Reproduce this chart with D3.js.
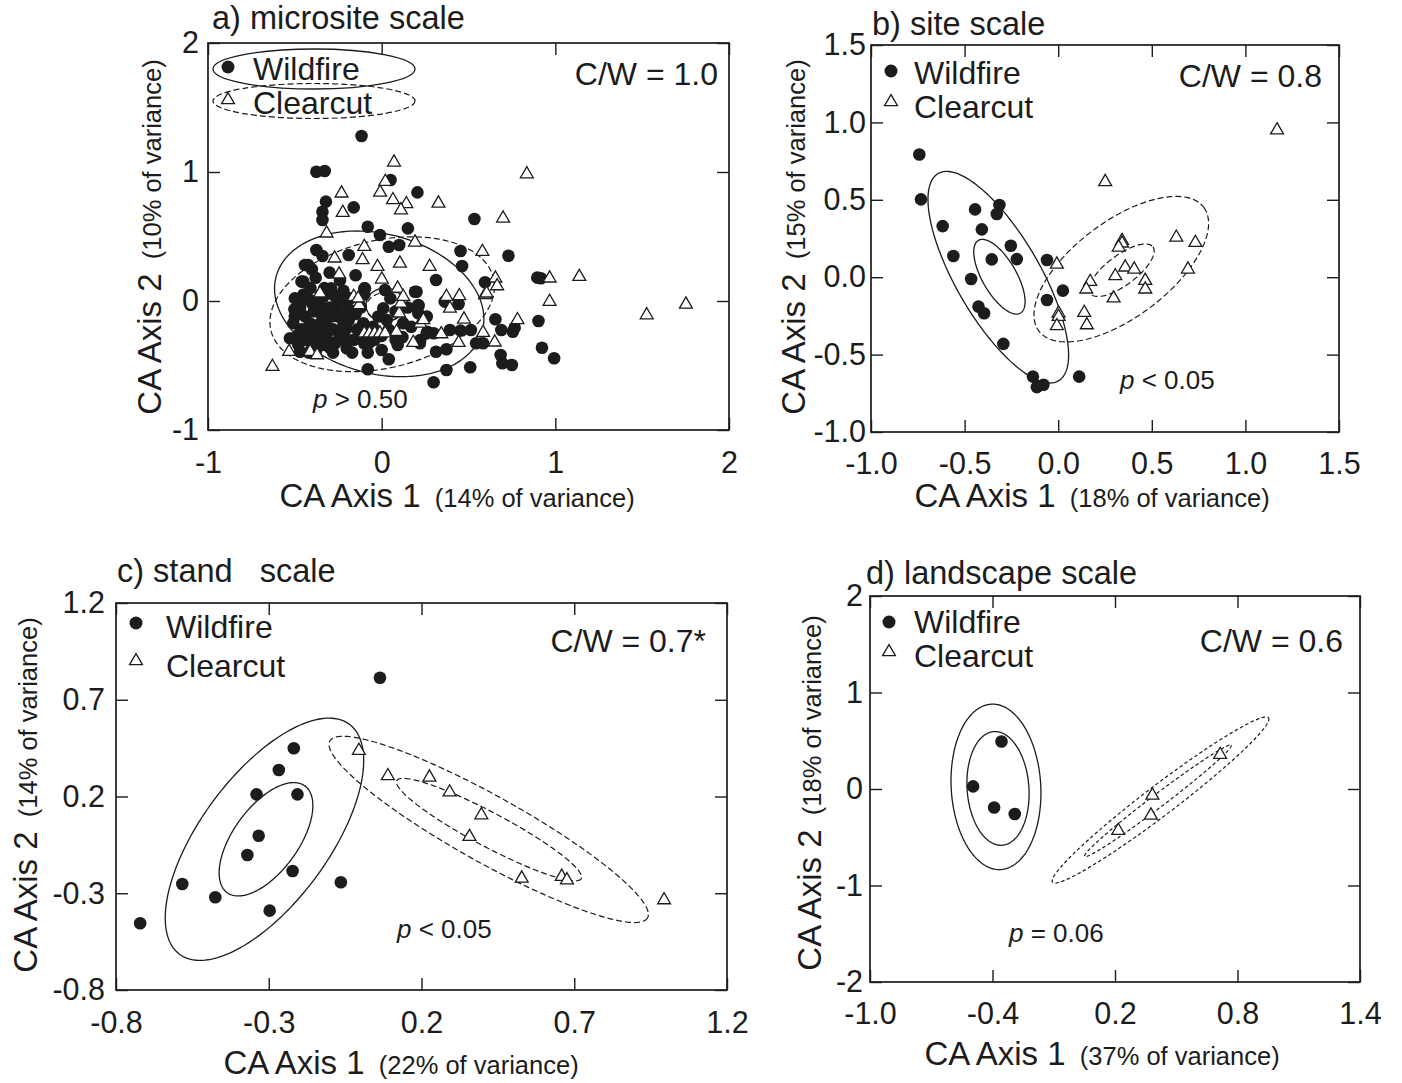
<!DOCTYPE html>
<html>
<head>
<meta charset="utf-8">
<script src="https://cdn.jsdelivr.net/npm/d3@7"></script>
<style>
  body { margin: 0; background: #fff; }
  svg text { font-family: "Liberation Sans", Arial, Helvetica, sans-serif; fill: #1c1c1c; }
</style>
</head>
<body>
<svg id="fig" width="1402" height="1083"></svg>
<script>
// ---------- CA ordination scores (Axis 1, Axis 2) ----------
const microWildfire = [
  [-0.116,1.279],[-0.376,1.002],[-0.328,1.008],[0.051,0.938],[0.206,0.842],[-0.321,0.770],[-0.161,0.726],
  [-0.341,0.692],[-0.341,0.628],[0.151,0.563],[-0.080,0.576],[-0.010,0.512],[0.041,0.421],[0.101,0.434],
  [0.534,0.636],[-0.376,0.395],[-0.341,0.349],[-0.190,0.357],[0.454,0.388],[0.463,0.271],[0.730,0.351],
  [-0.442,0.279],[-0.402,0.246],[0.313,0.163],[0.595,0.145],[0.896,0.181],[0.917,0.176],[0.192,0.072],
  [-0.100,0.098],[-0.291,0.098],[0.363,-0.005],[0.443,-0.023],[0.212,-0.039],[0.655,-0.142],[0.903,-0.155],
  [0.689,-0.225],[0.755,-0.238],[0.766,-0.207],[0.393,-0.225],[0.454,-0.230],[0.514,-0.225],[0.263,-0.238],
  [0.222,-0.302],[0.092,-0.341],[-0.070,-0.323],[0.041,-0.452],[-0.080,-0.529],[0.313,-0.393],[0.373,-0.374],
  [0.544,-0.328],[0.584,-0.328],[0.373,-0.535],[0.299,-0.630],[0.510,-0.514],[0.685,-0.419],[0.695,-0.483],
  [0.750,-0.496],[0.923,-0.362],[0.993,-0.444],[-0.528,-0.289],[-0.502,-0.064],[-0.462,0.150],
  [-0.423,0.279],[-0.451,0.150],[-0.096,0.098],[0.019,0.085],[0.201,0.072],[-0.470,-0.005],[-0.413,0.008],
  [-0.336,0.033],[-0.259,0.021],[-0.201,-0.005],[-0.489,-0.070],[-0.374,-0.070],[-0.279,-0.095],[-0.182,-0.070],
  [0.009,-0.057],[0.211,-0.031],[0.211,-0.095],[-0.509,-0.173],[-0.413,-0.173],[-0.317,-0.199],[-0.201,-0.212],
  [-0.106,-0.173],[0.029,-0.147],[0.124,-0.173],[0.259,-0.251],[-0.451,-0.302],[-0.374,-0.289],[-0.259,-0.315],
  [-0.201,-0.367],[-0.067,-0.315],[0.220,-0.328],[-0.470,-0.393],[-0.374,-0.367],
  [-0.45,0.05],[-0.40,-0.02],[-0.35,-0.10],[-0.30,-0.05],[-0.25,-0.12],[-0.42,-0.25],[-0.32,-0.28],
  [-0.28,-0.22],[-0.22,-0.18],[-0.15,-0.10],[-0.12,-0.25],[-0.05,-0.20],[0.00,-0.27],[-0.38,-0.40],
  [-0.48,-0.34],[-0.33,0.10],[-0.28,0.05],[-0.18,0.02],[-0.10,0.05],[0.05,0.02],[0.08,-0.08],[-0.02,-0.12],
  [0.15,-0.05],[-0.44,-0.12],[-0.36,-0.18],[-0.24,-0.28],[-0.16,-0.30],[-0.42,-0.40],[-0.30,-0.36],
  [-0.46,-0.22],[0.12,-0.28],[0.17,-0.20],[0.26,-0.12],[0.30,-0.25],[-0.08,-0.40],[0.00,-0.38],[-0.12,-0.05],
  [-0.38,0.18],[-0.30,0.22],[-0.24,0.16],[-0.15,0.20],
  [-0.50,-0.12],[-0.47,-0.05],[-0.43,0.02],[-0.39,-0.08],[-0.36,-0.03],[-0.33,-0.15],[-0.29,-0.12],
  [-0.26,-0.04],[-0.23,-0.09],[-0.31,-0.24],[-0.27,-0.33],[-0.22,-0.25],[-0.19,-0.15],[-0.44,-0.30],
  [-0.40,-0.35],[-0.34,-0.34],[-0.48,-0.26],[-0.37,-0.22],[-0.20,-0.30],[-0.14,-0.22],[-0.10,-0.33],
  [-0.04,-0.30],[0.04,-0.22],[0.08,-0.30],[-0.17,-0.40],[-0.28,-0.40],[-0.50,0.02],[-0.41,0.10],
  [-0.35,0.05],[-0.22,0.08]
];
const microClearcut = [
  [0.071,1.075],[0.836,0.984],[-0.231,0.835],[-0.009,0.842],[0.021,0.925],[0.065,0.783],[0.142,0.752],
  [0.111,0.705],[0.327,0.757],[-0.224,0.685],[0.699,0.641],[-0.317,0.525],[0.192,0.455],[-0.100,0.421],
  [-0.271,0.331],[-0.110,0.318],[-0.024,0.266],[0.105,0.292],[0.276,0.266],[0.580,0.382],[-0.245,0.207],
  [0.001,0.168],[0.655,0.176],[0.665,0.116],[0.967,0.176],[1.138,0.188],[0.967,-0.005],[1.752,-0.026],
  [1.526,-0.109],[0.092,0.098],[0.373,0.033],[0.447,0.039],[0.393,-0.057],[0.595,0.047],[0.101,-0.095],
  [0.111,-0.018],[0.474,-0.142],[0.782,-0.147],[0.222,-0.173],[0.343,-0.256],[0.584,-0.246],[0.651,-0.320],
  [0.443,-0.323],[0.182,-0.323],[-0.161,0.033],[-0.130,-0.031],[-0.629,-0.509],[-0.533,-0.393],[-0.412,-0.393],
  [-0.372,-0.419],[-0.10,-0.25],[-0.07,-0.25],[-0.04,-0.25],[-0.01,-0.25],[0.02,-0.25],[0.124,0.033],
  [-0.135,0.021],[0.604,0.060],[0.240,-0.147],[0.086,-0.238],[-0.355,0.060]
];

const siteWildfire = [
  [-0.742,0.793],[-0.733,0.503],[-0.617,0.330],[-0.444,0.438],[-0.314,0.466],[-0.328,0.408],[-0.408,0.309],
  [-0.560,0.137],[-0.355,0.115],[-0.253,0.203],[-0.221,0.117],[-0.465,-0.012],[-0.060,0.111],[0.025,-0.087],
  [-0.060,-0.147],[-0.426,-0.190],[-0.396,-0.233],[-0.293,-0.431],[-0.135,-0.642],[-0.114,-0.710],
  [-0.079,-0.695],[0.112,-0.642]
];
const siteClearcut = [
  [1.169,0.950],[0.251,0.616],[-0.007,0.083],[0.171,-0.029],[0.150,-0.078],[0.341,0.236],[0.341,0.219],
  [0.323,0.193],[0.358,0.064],[0.406,0.051],[0.305,0.008],[0.296,-0.136],[0.465,-0.022],[0.465,-0.078],
  [0.631,0.257],[0.733,0.223],[0.693,0.051],[0.002,-0.233],[0.002,-0.255],[-0.007,-0.315],[0.139,-0.229],
  [0.153,-0.309]
];

const standWildfire = [
  [0.064,0.814],[-0.218,0.449],[-0.267,0.337],[-0.340,0.211],[-0.206,0.211],[-0.333,-0.003],[-0.370,-0.102],
  [-0.222,-0.185],[-0.583,-0.252],[-0.475,-0.321],[-0.297,-0.390],[-0.064,-0.243],[-0.721,-0.455]
];
const standClearcut = [
  [-0.005,0.437],[0.090,0.306],[0.226,0.299],[0.292,0.222],[0.396,0.104],[0.357,-0.008],[0.528,-0.223],
  [0.659,-0.214],[0.676,-0.232],[0.994,-0.335]
];

const landWildfire = [[-0.356,0.493],[-0.495,0.027],[-0.392,-0.191],[-0.291,-0.259]];
const landClearcut = [[0.715,0.355],[0.383,-0.066],[0.376,-0.273],[0.216,-0.432]];

// ---------- confidence ellipses: [centre x, centre y, axis-1 vector x, y, axis-2 vector x, y] ----------
const microWildfireEllipses = [[-0.014,-0.022,0.594,-0.210,-0.102,-0.524],[0.02,-0.03,0.11,0.0,0.0,-0.13]];
const microClearcutEllipses = [[0.003,-0.025,0.641,0.202,0.084,-0.482],[0.03,-0.04,0.12,0.02,0.01,-0.11]];
const siteWildfireEllipses  = [[-0.320,0.000,0.321,-0.670,-0.195,-0.135],[-0.314,0.003,0.112,-0.235,-0.079,-0.055]];
const siteClearcutEllipses  = [[0.337,0.052,0.440,0.400,0.155,-0.247],[0.339,0.045,0.167,0.151,0.048,-0.077]];
const standWildfireEllipses = [[-0.314,-0.021,0.278,0.594,0.168,-0.197],[-0.309,-0.021,0.127,0.276,0.086,-0.098]];
const standClearcutEllipses = [[0.420,0.030,0.520,-0.457,-0.053,-0.151],[0.421,0.029,0.302,-0.253,-0.026,-0.078]];
const landWildfireEllipses  = [[-0.383,0.022,-0.023,0.857,0.219,0.026],[-0.373,0.006,-0.020,0.589,0.151,0.022]];
const landClearcutEllipses  = [[0.423,-0.114,0.529,0.852,0.045,-0.123],[0.410,-0.123,0.359,0.576,0.020,-0.054]];

// ---------- axis ticks ----------
const microTicksX = [-1, 0, 1, 2],            microTicksY = [-1, 0, 1, 2];
const siteTicksX  = [-1, -0.5, 0, 0.5, 1, 1.5], siteTicksY = [-1, -0.5, 0, 0.5, 1, 1.5];
const standTicksX = [-0.8, -0.3, 0.2, 0.7, 1.2], standTicksY = [-0.8, -0.3, 0.2, 0.7, 1.2];
const landTicksX  = [-1.0, -0.4, 0.2, 0.8, 1.4], landTicksY = [-2, -1, 0, 1, 2];

// ---------- per-panel text ----------
const panelTitles = ["a) microsite scale", "b) site scale", "c) stand   scale", "d) landscape scale"];
const axis1Variance = ["14%", "18%", "22%", "37%"];
const axis2Variance = ["10%", "15%", "14%", "18%"];
const cwRatios = ["C/W = 1.0", "C/W = 0.8", "C/W = 0.7*", "C/W = 0.6"];
const pTests = [["p", " > 0.50"], ["p", " < 0.05"], ["p", " < 0.05"], ["p", " = 0.06"]];
const groupNames = ["Wildfire", "Clearcut"];

const fmtInt = d => String(d);
const fmt1 = d => d.toFixed(1);

const svg = d3.select("#fig");
const ink = "#1c1c1c";
const triangle = d3.symbol().type(d3.symbolTriangle).size(72);

function ellipsePoints(e) {
  const n = 180;
  return d3.range(n).map(i => {
    const t = 2 * Math.PI * i / n;
    return [e[0] + e[2] * Math.cos(t) + e[4] * Math.sin(t),
            e[1] + e[3] * Math.cos(t) + e[5] * Math.sin(t)];
  });
}

function drawPanel(p) {
  const g = svg.append("g");
  const f = p.frame;
  const x = d3.scaleLinear().domain(p.xDomain).range([f.l, f.r]);
  const y = d3.scaleLinear().domain(p.yDomain).range([f.b, f.t]);
  const tick = 12;

  const axes = g.append("g").attr("color", ink);
  axes.append("g").attr("transform", `translate(0,${f.b})`)
    .call(d3.axisBottom(x).tickValues(p.xTicks).tickFormat(p.xFmt).tickSizeInner(-tick).tickSizeOuter(0).tickPadding(p.xPad));
  axes.append("g").attr("transform", `translate(0,${f.t})`)
    .call(d3.axisTop(x).tickValues(p.xTicks).tickFormat("").tickSizeInner(-tick).tickSizeOuter(0));
  axes.append("g").attr("transform", `translate(${f.l},0)`)
    .call(d3.axisLeft(y).tickValues(p.yTicks).tickFormat(p.yFmt).tickSizeInner(-tick).tickSizeOuter(0).tickPadding(p.yPad));
  axes.append("g").attr("transform", `translate(${f.r},0)`)
    .call(d3.axisRight(y).tickValues(p.yTicks).tickFormat("").tickSizeInner(-tick).tickSizeOuter(0));
  axes.selectAll(".domain").remove();
  axes.selectAll(".tick line").attr("stroke-width", 1.4);
  axes.selectAll(".tick text").style("font-size", "30.5px");

  g.append("rect").attr("x", f.l).attr("y", f.t).attr("width", f.r - f.l).attr("height", f.b - f.t)
    .attr("fill", "none").attr("stroke", ink).attr("stroke-width", 1.7);

  // ellipses
  const line = d3.line().x(d => x(d[0])).y(d => y(d[1])).curve(d3.curveLinearClosed);
  g.selectAll(null).data(p.wEll).enter().append("path")
    .attr("d", e => line(ellipsePoints(e)))
    .attr("fill", "none").attr("stroke", ink).attr("stroke-width", 1.3);
  g.selectAll(null).data(p.cEll).enter().append("path")
    .attr("d", e => line(ellipsePoints(e)))
    .attr("fill", "none").attr("stroke", ink).attr("stroke-width", 1.2).attr("stroke-dasharray", p.dash);

  // points
  g.selectAll(null).data(p.wild).enter().append("circle")
    .attr("cx", d => x(d[0])).attr("cy", d => y(d[1])).attr("r", 6.3).attr("fill", ink);
  g.selectAll(null).data(p.clear).enter().append("path")
    .attr("d", triangle).attr("transform", d => `translate(${x(d[0])},${y(d[1])})`)
    .attr("fill", "#fff").attr("stroke", ink).attr("stroke-width", 1.3);

  // title
  g.append("text").attr("x", p.title[0]).attr("y", p.title[1])
    .style("font-size", "32.5px").style("white-space", "pre").text(panelTitles[p.i]);

  // axis titles
  const xl = g.append("text").attr("x", p.xLab[0]).attr("y", p.xLab[1]).attr("text-anchor", "middle").style("white-space", "pre");
  xl.append("tspan").style("font-size", "33px").text("CA Axis 1");
  xl.append("tspan").style("font-size", "25.5px").text(`  (${axis1Variance[p.i]} of variance)`);
  const yl = g.append("text").attr("transform", `translate(${p.yLab[0]},${p.yLab[1]}) rotate(-90)`)
    .attr("text-anchor", "middle").style("white-space", "pre");
  yl.append("tspan").style("font-size", "33px").text("CA Axis 2");
  yl.append("tspan").style("font-size", "25.5px").text(`  (${axis2Variance[p.i]} of variance)`);

  // legend
  const lg = p.legend;
  g.append("circle").attr("cx", lg.mx).attr("cy", lg.y1).attr("r", 6.5).attr("fill", ink);
  g.append("path").attr("d", triangle).attr("transform", `translate(${lg.mx},${lg.y2})`)
    .attr("fill", "#fff").attr("stroke", ink).attr("stroke-width", 1.3);
  g.append("text").attr("x", lg.tx).attr("y", lg.b1).style("font-size", "32px").text(groupNames[0]);
  g.append("text").attr("x", lg.tx).attr("y", lg.b2).style("font-size", "32px").text(groupNames[1]);
  if (lg.rings) {
    g.append("ellipse").attr("cx", 314).attr("cy", 69).attr("rx", 101).attr("ry", 20)
      .attr("fill", "none").attr("stroke", ink).attr("stroke-width", 1.3);
    g.append("ellipse").attr("cx", 314).attr("cy", 101).attr("rx", 101).attr("ry", 17.5)
      .attr("fill", "none").attr("stroke", ink).attr("stroke-width", 1.2).attr("stroke-dasharray", p.dash);
  }

  // C/W ratio and test result
  g.append("text").attr("x", p.cw[0]).attr("y", p.cw[1]).attr("text-anchor", "end")
    .style("font-size", "32px").text(cwRatios[p.i]);
  const pt = g.append("text").attr("x", p.pv[0]).attr("y", p.pv[1]).style("font-size", "26px").style("white-space", "pre");
  pt.append("tspan").style("font-style", "italic").text(pTests[p.i][0]);
  pt.append("tspan").text(pTests[p.i][1]);
}

drawPanel({
  i: 0, frame: {l: 208, r: 729, t: 43, b: 430}, xDomain: [-1, 2], yDomain: [-1, 2],
  xTicks: microTicksX, yTicks: microTicksY, xFmt: fmtInt, yFmt: fmtInt, xPad: 21, yPad: 9,
  wild: microWildfire, clear: microClearcut, wEll: microWildfireEllipses, cEll: microClearcutEllipses,
  dash: "6,3", title: [212, 29], xLab: [457, 507], yLab: [161, 237],
  legend: {mx: 228, y1: 67, y2: 100, tx: 253, b1: 80, b2: 114, rings: true},
  cw: [718, 85], pv: [313, 408]
});
drawPanel({
  i: 1, frame: {l: 871, r: 1339, t: 45, b: 432}, xDomain: [-1, 1.5], yDomain: [-1, 1.5],
  xTicks: siteTicksX, yTicks: siteTicksY, xFmt: fmt1, yFmt: fmt1, xPad: 20, yPad: 5,
  wild: siteWildfire, clear: siteClearcut, wEll: siteWildfireEllipses, cEll: siteClearcutEllipses,
  dash: "6,3", title: [872, 35], xLab: [1092, 507], yLab: [805, 237],
  legend: {mx: 891, y1: 71, y2: 102, tx: 914, b1: 84, b2: 118},
  cw: [1322, 87], pv: [1120, 389]
});
drawPanel({
  i: 2, frame: {l: 116, r: 727, t: 603, b: 990}, xDomain: [-0.8, 1.2], yDomain: [-0.8, 1.2],
  xTicks: standTicksX, yTicks: standTicksY, xFmt: fmt1, yFmt: fmt1, xPad: 21, yPad: 11,
  wild: standWildfire, clear: standClearcut, wEll: standWildfireEllipses, cEll: standClearcutEllipses,
  dash: "6,3", title: [117, 582], xLab: [401, 1074], yLab: [37, 795],
  legend: {mx: 136, y1: 623, y2: 661, tx: 166, b1: 638, b2: 677},
  cw: [706, 652], pv: [397, 938]
});
drawPanel({
  i: 3, frame: {l: 870, r: 1360, t: 596, b: 982}, xDomain: [-1.0, 1.4], yDomain: [-2, 2],
  xTicks: landTicksX, yTicks: landTicksY, xFmt: fmt1, yFmt: fmtInt, xPad: 20, yPad: 7,
  wild: landWildfire, clear: landClearcut, wEll: landWildfireEllipses, cEll: landClearcutEllipses,
  dash: "3.5,2.5", title: [866, 584], xLab: [1102, 1065], yLab: [821, 793],
  legend: {mx: 889, y1: 622, y2: 652, tx: 914, b1: 633, b2: 667},
  cw: [1343, 652], pv: [1009, 942]
});
</script>
</body>
</html>
